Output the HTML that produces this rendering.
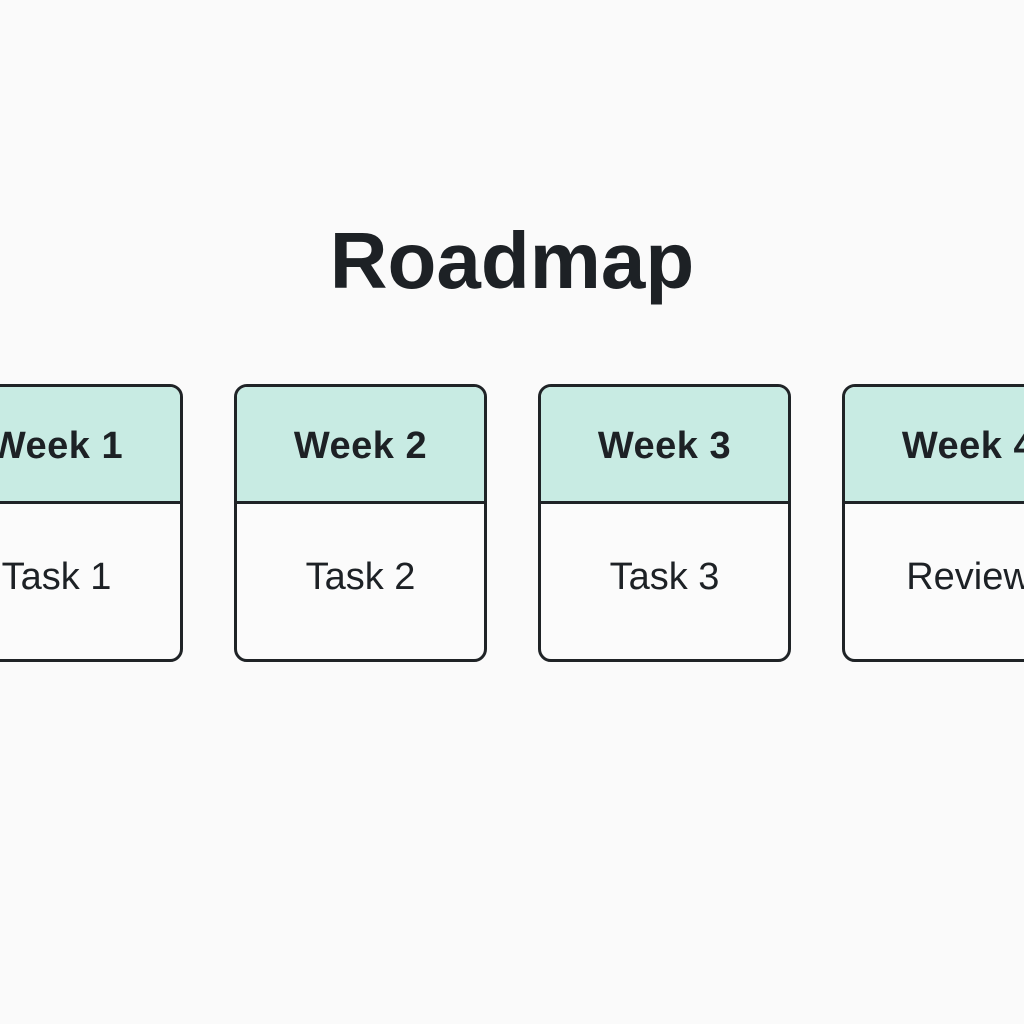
<!DOCTYPE html>
<html><head><meta charset="utf-8"><style>
body{margin:0;width:1024px;height:1024px;background:#fafafa;position:relative;overflow:hidden;font-family:"Liberation Sans",sans-serif;color:#1d2125}
.t{position:absolute;left:0;width:1024px;top:211px;text-align:center;font-weight:bold;font-size:80px;line-height:100px}
.c{position:absolute;top:384px;width:247px;height:272px;border:3px solid #1f2326;border-radius:13px;background:#fbfbfb;overflow:hidden}
.h{height:114px;background:#c8ebe3;border-bottom:3px solid #1f2326;text-align:center;font-weight:bold;font-size:38px;line-height:118px;letter-spacing:0.5px}
.b{text-align:center;font-size:38px;line-height:146px}
</style></head><body>
<div class="t">Roadmap</div>
<div class="c" style="left:-70px"><div class="h">Week 1</div><div class="b">Task 1</div></div>
<div class="c" style="left:234px"><div class="h">Week 2</div><div class="b">Task 2</div></div>
<div class="c" style="left:538px"><div class="h">Week 3</div><div class="b">Task 3</div></div>
<div class="c" style="left:842px"><div class="h">Week 4</div><div class="b">Review</div></div>
</body></html>
